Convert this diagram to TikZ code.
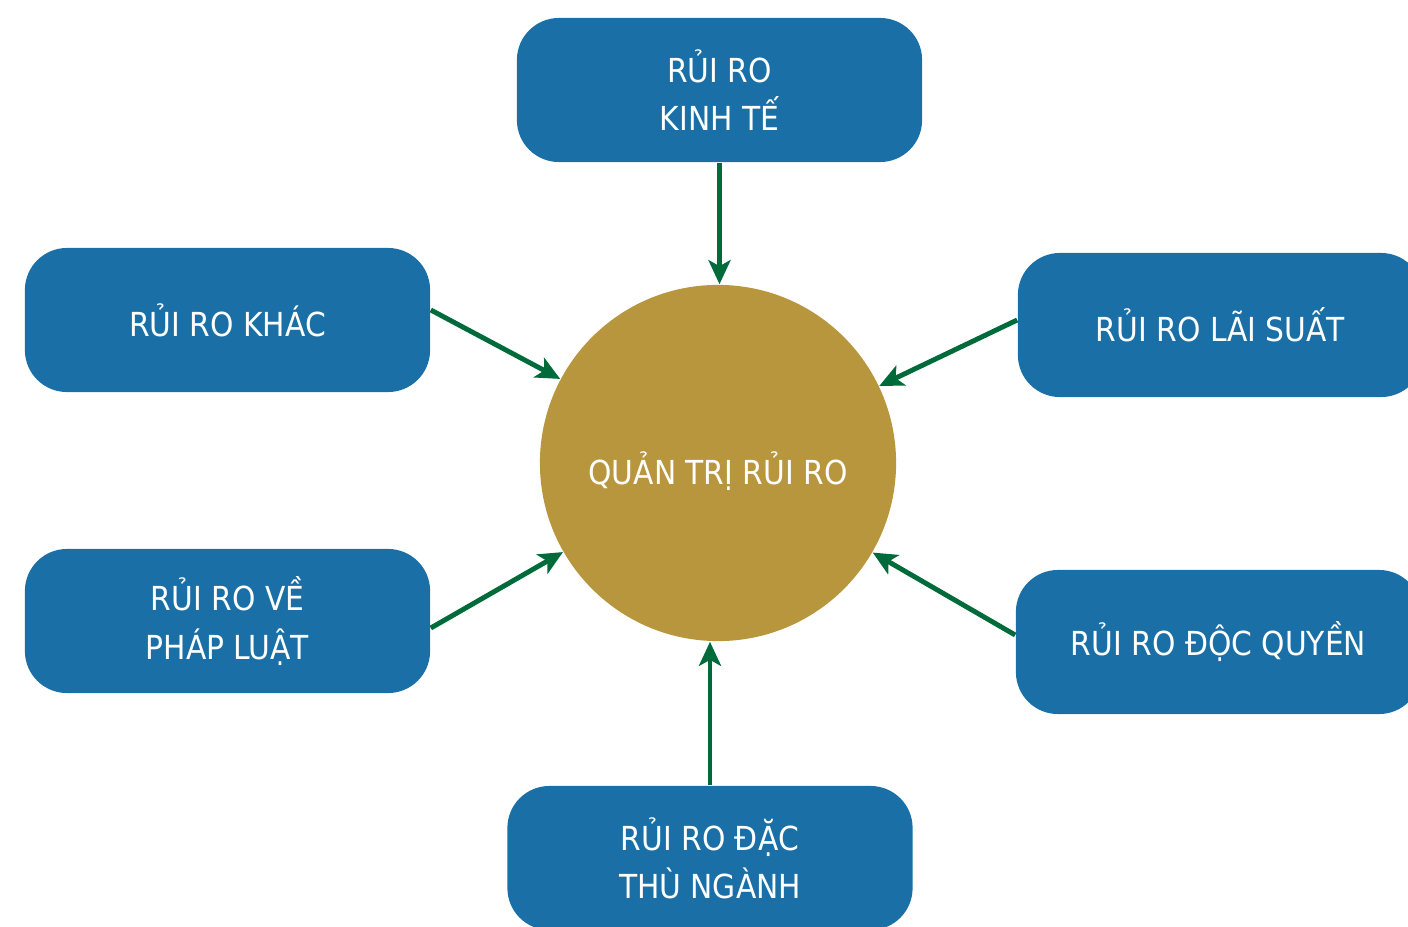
\documentclass[tikz,border=0pt]{standalone}
\usepackage{fontspec}
\setmainfont{DejaVu Sans Condensed}
\usepackage{xcolor}
\usetikzlibrary{arrows.meta}

\definecolor{riskblue}{HTML}{1A70A6}
\definecolor{coregold}{HTML}{B8963E}
\definecolor{arrowgreen}{HTML}{006B3A}

\tikzset{
  riskbox/.style={fill=riskblue, rounded corners=0.42cm, minimum width=4.05cm,
    minimum height=1.44cm, text=white, align=center,
    font=\fontsize{9.4}{13.7}\selectfont},
  corecircle/.style={circle, fill=coregold, minimum size=3.56cm, text=white,
    font=\fontsize{9.4}{13.7}\selectfont},
  feed/.style={arrowgreen, line width=1.4pt, -{Stealth[length=0.24cm, width=0.22cm, inset=0.06cm]}}
}

\begin{document}
\begin{tikzpicture}[x=0.01cm, y=-0.01cm]
  \useasboundingbox (0,0) rectangle (1408,927);
  \clip (0,0) rectangle (1408,927);
  % centre
  \node[corecircle] (qt) at (718,463) {\raisebox{-0.08cm}[\height][\depth]{QUẢN TRỊ RỦI RO}};
  % risk boxes
  \node[riskbox] (kt) at (719.5,90) {RỦI RO\\KINH TẾ};
  \node[riskbox] (khac) at (227.5,320) {RỦI RO KHÁC};
  \node[riskbox] (ls) at (1220.5,325) {RỦI RO LÃI SUẤT};
  \node[riskbox] (pl) at (227.5,621) {RỦI RO VỀ\\PHÁP LUẬT};
  \node[riskbox] (dq) at (1218.5,642) {RỦI RO ĐỘC QUYỀN};
  \node[riskbox] (dac) at (710,858) {RỦI RO ĐẶC\\THÙ NGÀNH};
  % arrows into the centre
  \draw[feed] (kt.south) -- (kt.south |- qt.north);
  \draw[feed] ([yshift=0.1cm]khac.east) -- (qt);
  \draw[feed] ([yshift=0.05cm]ls.west) -- (qt);
  \draw[feed] ([yshift=-0.07cm]pl.east) -- (qt);
  \draw[feed] ([yshift=0.07cm]dq.west) -- (qt);
  \draw[feed] (dac.north) -- (dac.north |- qt.south);
\end{tikzpicture}
\end{document}
